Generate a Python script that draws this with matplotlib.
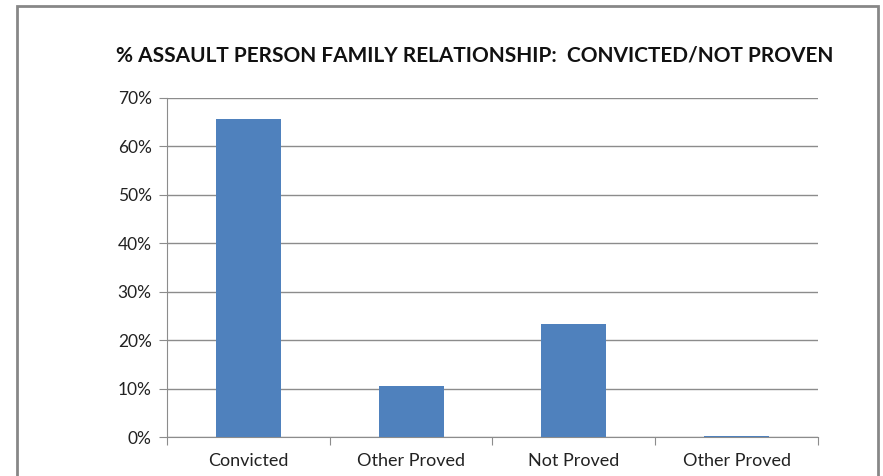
import matplotlib
matplotlib.use("Agg")
import matplotlib.pyplot as plt
from matplotlib.patches import Rectangle
from matplotlib.ticker import FuncFormatter

categories = ["Convicted", "Other Proved", "Not Proved", "Other Proved"]
values = [65.7, 10.6, 23.3, 0.3]
y_ticks = [0, 10, 20, 30, 40, 50, 60, 70]
title = "% ASSAULT PERSON FAMILY RELATIONSHIP:  CONVICTED/NOT PROVEN"

bar_color = "#4F81BD"
grid_color = "#8C8C8C"

plt.rcParams['font.family'] = ['Lato', 'DejaVu Sans']

fig = plt.figure(figsize=(8.83, 4.76), dpi=100)
W, H = 883, 476

# outer chart frame (bottom runs off the image)
fig.patches.append(Rectangle((17 / W, -0.05), (878 - 17) / W, (476 - 6) / H + 0.05,
                             transform=fig.transFigure, fill=False,
                             edgecolor="#878787", linewidth=2))

ax = fig.add_axes([167 / W, 1 - 437 / H, (818 - 167) / W, (437 - 98) / H])
x = list(range(len(categories)))
ax.bar(x, values, width=0.4, color=bar_color, zorder=3)

ax.set_xlim(-0.5, len(categories) - 0.5)
ax.set_ylim(0, 70)
ax.set_yticks(y_ticks)
ax.yaxis.set_major_formatter(FuncFormatter(lambda v, p: f"{v:.0f}%"))
ax.grid(axis="y", color=grid_color, linewidth=1, zorder=0)

ax.set_xticks([i - 0.5 for i in range(len(categories) + 1)])
ax.set_xticklabels([])
ax.set_xticks(x, minor=True)
ax.set_xticklabels(categories, minor=True)
ax.tick_params(axis="x", which="minor", length=0, pad=11.5, labelsize=13, colors="#222222")
ax.tick_params(axis="x", which="major", length=6, color=grid_color)
ax.tick_params(axis="y", length=6, color=grid_color, labelsize=12.5, labelcolor="#222222", pad=5)

for s in ["top", "right"]:
    ax.spines[s].set_visible(False)
ax.spines["left"].set_color(grid_color)
ax.spines["bottom"].set_color(grid_color)

fig.text(475 / W, 1 - 56 / H, title, ha="center", va="center",
         fontsize=15, fontweight="bold", color="#111111")

fig.savefig("out.png", dpi=100)
